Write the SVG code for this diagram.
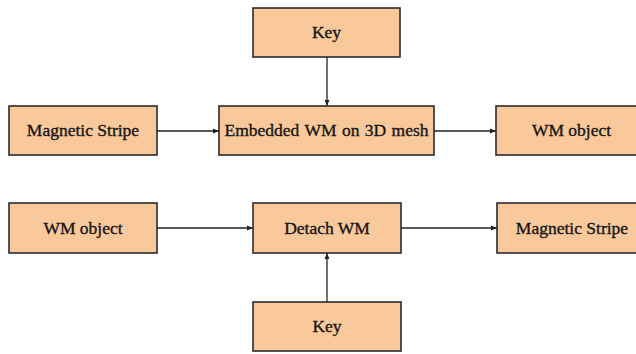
<svg xmlns="http://www.w3.org/2000/svg" width="636" height="354" viewBox="0 0 636 354">
<style>
.box{fill:#F9C99B;stroke:#2b2b2b;stroke-width:1.6}
.lbl{font-family:"Liberation Serif","Tinos","DejaVu Serif","Times New Roman",serif;font-size:17.5px;fill:#151515;stroke:#151515;stroke-width:0.35;text-anchor:middle}
.edge{stroke:#222;stroke-width:1.3;fill:none;marker-end:url(#ah)}
</style>
<defs>
<marker id="ah" viewBox="0 0 8 8" refX="8" refY="4" markerWidth="6" markerHeight="6" orient="auto" markerUnits="userSpaceOnUse">
<path d="M0,0.8 L8,4 L0,7.2 z" fill="#222"/>
</marker>
</defs>
<rect width="636" height="354" fill="#fff"/>
<g id="edges">
<line class="edge" x1="327" y1="57" x2="327" y2="106"/>
<line class="edge" x1="157" y1="131" x2="219" y2="131"/>
<line class="edge" x1="434" y1="131" x2="496" y2="131"/>
<line class="edge" x1="157" y1="228" x2="253" y2="228"/>
<line class="edge" x1="401" y1="228" x2="497" y2="228"/>
<line class="edge" x1="327" y1="302" x2="327" y2="253"/>
</g>
<g id="key1"><rect class="box" x="253" y="8" width="147" height="49"/><text class="lbl" x="326.5" y="38">Key</text></g>
<g id="mag1"><rect class="box" x="9" y="106" width="148" height="49"/><text class="lbl" x="83" y="136">Magnetic Stripe</text></g>
<g id="embed"><rect class="box" x="219" y="106" width="215" height="49"/><text class="lbl" x="326.5" y="136" word-spacing="1">Embedded WM on 3D mesh</text></g>
<g id="wm1"><rect class="box" x="496" y="106" width="150" height="49"/><text class="lbl" x="571.5" y="136">WM object</text></g>
<g id="wm2"><rect class="box" x="9" y="203" width="148" height="50"/><text class="lbl" x="83" y="234">WM object</text></g>
<g id="detach"><rect class="box" x="253" y="203" width="148" height="50"/><text class="lbl" x="327" y="234">Detach WM</text></g>
<g id="mag2"><rect class="box" x="497" y="203" width="150" height="50"/><text class="lbl" x="572" y="234">Magnetic Stripe</text></g>
<g id="key2"><rect class="box" x="253" y="302" width="148" height="49"/><text class="lbl" x="327" y="332">Key</text></g>
</svg>
